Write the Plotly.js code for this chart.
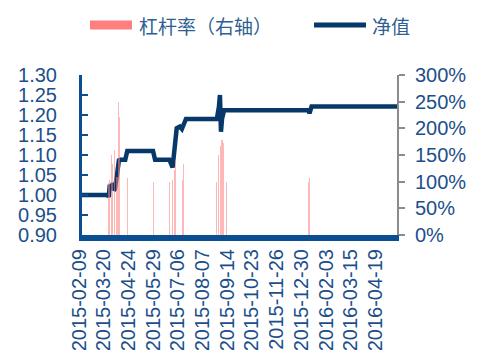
<!DOCTYPE html>
<html>
<head>
<meta charset="utf-8">
<script src="https://cdn.plot.ly/plotly-3.0.1.min.js"></script>
<style>
  html, body { margin: 0; padding: 0; background: #ffffff; }
  #chart { width: 477px; height: 350px; }
</style>
</head>
<body>
<div id="chart"></div>
<script>
// Trading-day index (0 = 2015-02-09) and tick labels shown every 24 sessions
const tickDays = [0, 24, 48, 72, 96, 120, 144, 168, 192, 216, 240, 264, 288];
const tickLabels = ['2015-02-09', '2015-03-20', '2015-04-24', '2015-05-29', '2015-07-06',
  '2015-08-07', '2015-09-14', '2015-10-23', '2015-11-26', '2015-12-30',
  '2016-02-03', '2016-03-15', '2016-04-19'];

// 净值 (net value) turning points
const navDays = [0, 25, 26, 27, 29, 30, 31, 32, 34, 35, 36, 37, 42, 44, 69, 71, 85, 88, 92, 95, 97,
  101, 131, 133, 134, 135, 136, 138, 220, 221, 223, 306];
const navValues = [1.000, 1.000, 0.995, 1.025, 1.020, 1.030, 1.012, 1.015, 1.050, 1.075, 1.090,
  1.088, 1.088, 1.110, 1.110, 1.088, 1.088, 1.069, 1.167, 1.171, 1.165, 1.190, 1.190, 1.220,
  1.250, 1.158, 1.190, 1.212, 1.212, 1.204, 1.221, 1.221];

// 杠杆率 (leverage, %) on the sessions where it was used
const levDays = [26, 27, 29, 30, 32, 34, 35, 36, 44, 69, 85, 88, 90, 91, 98, 99,
  131, 133, 135, 136, 137, 140, 220, 221];
const levValues = [97, 103, 150, 134, 160, 109, 250, 222, 106, 100, 100, 103, 122, 140, 103, 134,
  100, 150, 166, 178, 172, 100, 100, 106];

const blue = '#1c4f8a';
const navy = '#06386a';
const salmon = '#ff7f7f';
const tickFont = { family: 'Liberation Sans, Arial, sans-serif', size: 20, color: blue };
const legendFont = { family: 'Noto Sans CJK SC, sans-serif', size: 19, color: '#2f5f90' };

const traces = [
  {
    type: 'bar', x: levDays, y: levValues, yaxis: 'y2', width: 1,
    marker: { color: salmon, line: { width: 0 } }, opacity: 0.55,
    name: '杠杆率（右轴）', hoverinfo: 'x+y'
  },
  {
    type: 'scatter', mode: 'lines', x: navDays, y: navValues,
    line: { color: navy, width: 4.5 }, name: '净值'
  }
];

// plot area spans x 82..397, y 75..235 in pixels
const px = p => (p - 82) / 315;
const py = p => (235 - p) / 160;

const layout = {
  width: 477, height: 350,
  margin: { l: 82, r: 80, t: 75, b: 115, pad: 0 },
  paper_bgcolor: '#ffffff', plot_bgcolor: '#ffffff',
  showlegend: false, bargap: 0,
  xaxis: {
    range: [0, 306], tickmode: 'array', tickvals: tickDays, ticktext: tickLabels,
    tickangle: -90, ticks: '', showgrid: false, zeroline: false,
    showline: true, linecolor: '#0b4f93', linewidth: 6,
    tickfont: tickFont, ticklabelshift: -3, fixedrange: true
  },
  yaxis: {
    range: [0.9, 1.3], dtick: 0.05, tick0: 0.9, tickformat: '.2f',
    ticks: 'inside', ticklen: 6, tickwidth: 2, tickcolor: '#0b4f93',
    showline: true, linecolor: '#0b4f93', linewidth: 3,
    showgrid: false, zeroline: false, tickfont: tickFont, ticklabelstandoff: 18
  },
  yaxis2: {
    overlaying: 'y', side: 'right', range: [0, 300], dtick: 50, tick0: 0, ticksuffix: '%',
    ticks: 'outside', ticklen: 6, tickwidth: 2, tickcolor: '#8c8c8c',
    showline: true, linecolor: '#8c8c8c', linewidth: 2,
    showgrid: false, zeroline: false, tickfont: tickFont, ticklabelstandoff: 6
  },
  shapes: [
    { type: 'line', xref: 'paper', yref: 'paper', x0: px(90), x1: px(132), y0: py(25), y1: py(25),
      line: { color: salmon, width: 9 } },
    { type: 'line', xref: 'paper', yref: 'paper', x0: px(314), x1: px(366), y0: py(25), y1: py(25),
      line: { color: navy, width: 5 } }
  ],
  annotations: [
    { xref: 'paper', yref: 'paper', x: px(137), y: py(25), xanchor: 'left', yanchor: 'middle',
      text: '杠杆率（右轴）', showarrow: false, font: legendFont },
    { xref: 'paper', yref: 'paper', x: px(370), y: py(25), xanchor: 'left', yanchor: 'middle',
      text: '净值', showarrow: false, font: legendFont }
  ]
};

Plotly.newPlot('chart', traces, layout, { staticPlot: true, displayModeBar: false });
</script>
</body>
</html>
